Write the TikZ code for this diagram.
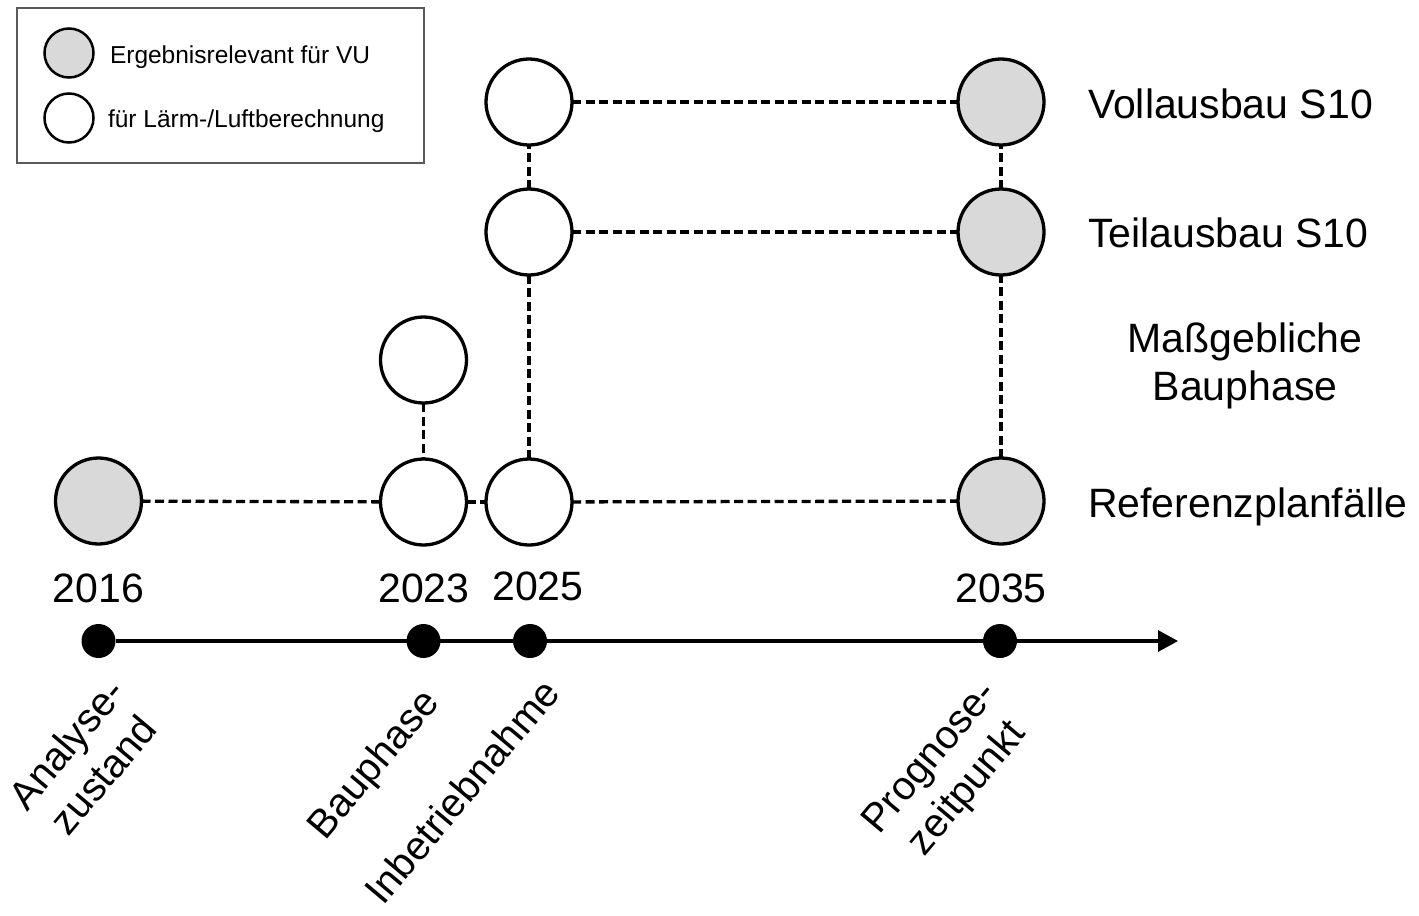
\documentclass[tikz,border=0pt]{standalone}
\usepackage{fontspec}
\setmainfont{Liberation Sans}
\usetikzlibrary{arrows.meta}
\definecolor{casegray}{HTML}{D9D9D9}
\definecolor{framegray}{HTML}{5A5A5A}
\begin{document}
\begin{tikzpicture}[x=1bp,y=-1bp,
  every node/.style={inner sep=0pt,outer sep=0pt},
  caseopen/.style={circle,draw=black,line width=3.3bp,fill=white,minimum size=86bp},
  casefull/.style={caseopen,fill=casegray},
  legopen/.style={circle,draw=black,line width=2.5bp,fill=white,minimum size=49bp},
  legfull/.style={legopen,fill=casegray},
  link/.style={line width=3.3bp,dash pattern=on 9bp off 4.5bp},
  tick/.style={circle,fill=black,minimum size=34bp},
  big/.style={font=\fontsize{41bp}{48bp}\selectfont},
  small/.style={font=\fontsize{24.5bp}{29bp}\selectfont},
  slanted/.style={font=\fontsize{40bp}{48bp}\selectfont,rotate=50,anchor=base east,align=center}]
\useasboundingbox (0,0) rectangle (1419,915);

% legend
\node[draw=framegray,line width=2bp,minimum width=407bp,minimum height=155bp,anchor=north west] (legend) at (17,8) {};
\node[legfull] (lfull) at (69,53) {};
\node[legopen] (lopen) at (69,118) {};
\node[small,anchor=base west] (ltxt1) at (110,63) {Ergebnisrelevant für VU};
\node[small,anchor=base west] (ltxt2) at (108,127) {für Lärm-/Luftberechnung};

% scenario circles
\node[casefull] (r2016) at (98.5,501) {};
\node[caseopen] (r2023) at (423.5,502) {};
\node[caseopen] (b2023) at (423.5,360) {};
\node[caseopen] (r2025) at (529,502) {};
\node[caseopen] (t2025) at (529,232) {};
\node[caseopen] (v2025) at (529,102) {};
\node[casefull] (r2035) at (1001,501) {};
\node[casefull] (t2035) at (1001,232) {};
\node[casefull] (v2035) at (1001,102) {};

% dashed links
\draw[link] (r2016) -- (r2023);
\draw[link] (r2023) -- (r2025);
\draw[link] (r2025) -- (r2035);
\draw[link] (b2023) -- (r2023);
\draw[link] (r2025) -- (t2025);
\draw[link] (t2025) -- (v2025);
\draw[link] (t2025) -- (t2035);
\draw[link] (v2025) -- (v2035);
\draw[link] (r2035) -- (t2035);
\draw[link] (t2035) -- (v2035);

% row labels
\node[big,anchor=base west] (lvoll) at (1088,118) {Vollausbau S10};
\node[big,anchor=base west] (lteil) at (1088,247) {Teilausbau S10};
\node[big,align=center,anchor=base] (lbau) at (1245,400) {Maßgebliche\\Bauphase};
\node[big,anchor=base west] (lref) at (1088,517) {Referenzplanfälle};

% years
\node[big,anchor=base] (y2016) at (98.5,602) {2016};
\node[big,anchor=base] (y2023) at (424,602) {2023};
\node[big,anchor=base] (y2025) at (538,600) {2025};
\node[big,anchor=base] (y2035) at (1001,602) {2035};

% time axis
\node[tick] (d2016) at (98.5,641) {};
\node[tick] (d2023) at (423.5,641) {};
\node[tick] (d2025) at (530,641) {};
\node[tick] (d2035) at (1000,641) {};
\coordinate (axend) at (1178,641);
\draw[line width=3.3bp,-{Triangle[length=20bp,width=21bp]}] (d2016) -- (axend);

% phase labels
\node[slanted] (pana) at (164,724) {Analyse-\\zustand};
\node[slanted] (pbau) at (441,703) {Bauphase};
\node[slanted] (pinb) at (562,694) {Inbetriebnahme};
\node[slanted] (ppro) at (1035,725) {Prognose-\\zeitpunkt};
\end{tikzpicture}
\end{document}
